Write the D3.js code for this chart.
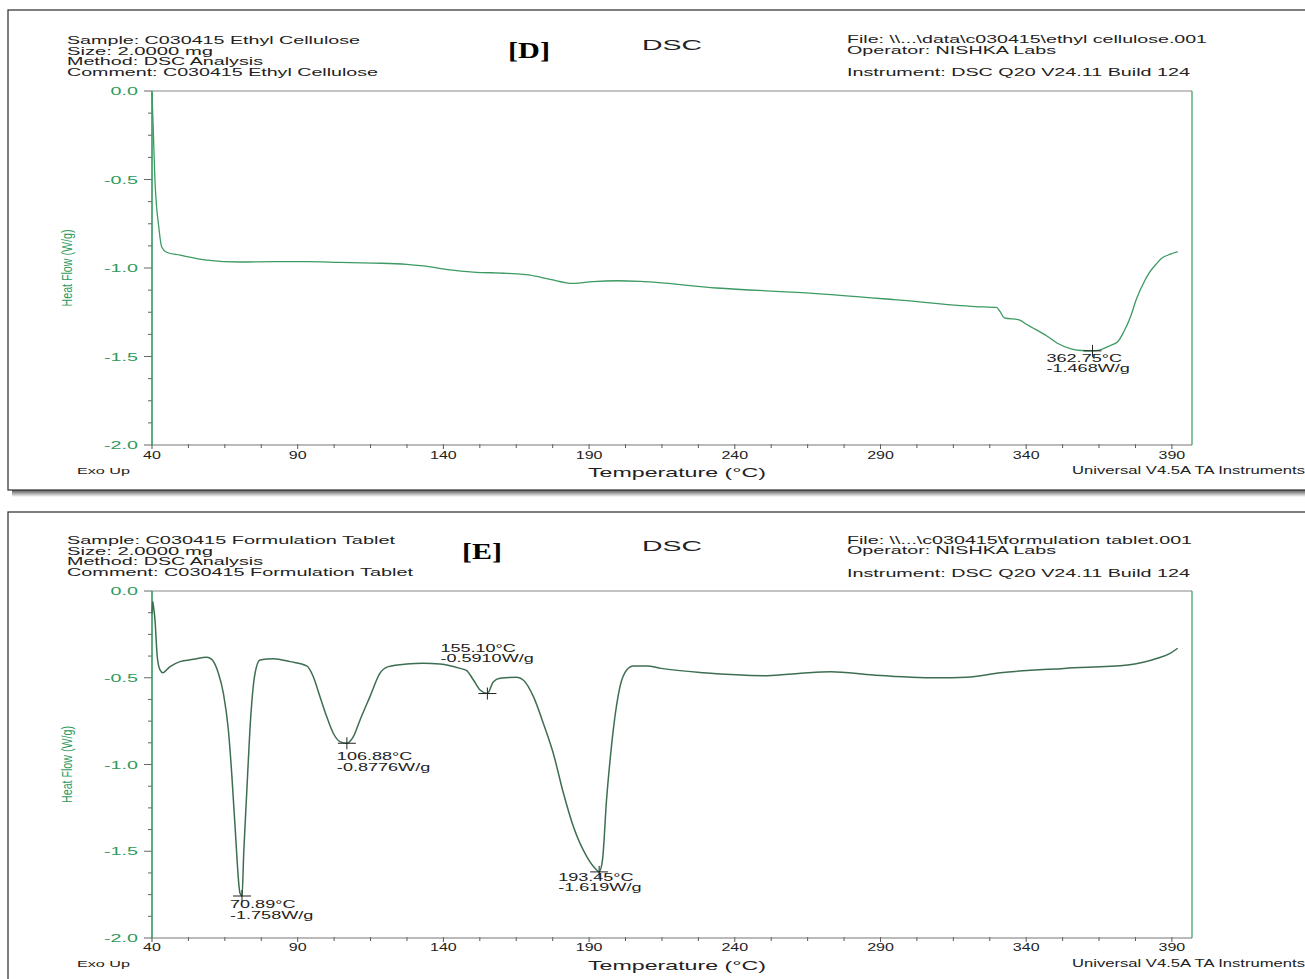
<!DOCTYPE html>
<html>
<head>
<meta charset="utf-8">
<script src="https://cdn.jsdelivr.net/npm/d3@7"></script>
<style>
	body { margin: 0; background: #fff; }
	svg { display: block; }
</style>
</head>
<body>
<div id="chart"></div>
<script>
/***********************************************************
  Start: Data
***********************************************************/
var xTickValues = [40, 90, 140, 190, 240, 290, 340, 390];
var yTickValues = [0.0, -0.5, -1.0, -1.5, -2.0];
var xDomain = [40, 396.9];
var yDomain = [-2.0, 0.0];

// Panel D : ethyl cellulose
var headerLeftD = ['Sample: C030415 Ethyl Cellulose', 'Size:  2.0000 mg', 'Method: DSC Analysis', 'Comment: C030415 Ethyl Cellulose'];
var headerRightD = ['File: \\\\...\\data\\c030415\\ethyl cellulose.001', 'Operator: NISHKA Labs', 'Instrument: DSC Q20 V24.11 Build 124'];
var tempD = [40.0, 40.5, 41.0, 41.6, 42.2, 43.3, 45.0, 49.6, 58.8, 70.2, 81.5, 93.1, 104.5, 115.8, 127.4, 133.0, 142.3, 150.2, 161.7, 169.7, 176.6, 184.5, 191.3, 199.6, 207.5, 233.7, 265.7, 294.8, 322.7, 329.8, 331.0, 332.5, 337.8, 339.9, 347.1, 350.7, 355.7, 359.0, 362.75, 365.5, 368.6, 371.4, 373.5, 375.8, 377.7, 380.8, 382.1, 384.5, 386.5, 389.5, 392.0];
var flowD = [-0.01, -0.25, -0.50, -0.66, -0.75, -0.88, -0.911, -0.927, -0.955, -0.966, -0.964, -0.964, -0.968, -0.972, -0.979, -0.988, -1.011, -1.023, -1.030, -1.040, -1.064, -1.087, -1.077, -1.072, -1.075, -1.113, -1.142, -1.179, -1.218, -1.223, -1.245, -1.282, -1.294, -1.316, -1.384, -1.425, -1.458, -1.466, -1.468, -1.462, -1.440, -1.417, -1.360, -1.275, -1.181, -1.068, -1.030, -0.980, -0.945, -0.922, -0.908];
var peakTempD = [362.75];
var peakFlowD = [-1.468];

// Panel E : formulation tablet
var headerLeftE = ['Sample: C030415 Formulation Tablet', 'Size:  2.0000 mg', 'Method: DSC Analysis', 'Comment: C030415 Formulation Tablet'];
var headerRightE = ['File: \\\\...\\c030415\\formulation tablet.001', 'Operator: NISHKA Labs', 'Instrument: DSC Q20 V24.11 Build 124'];
var tempE = [40.0, 40.25, 40.6, 41.03, 41.8, 42.75, 43.7, 46.2, 49.6, 54.2, 58.8, 60.5, 62.8, 64.5, 66.2, 67.35, 68.5, 70.2, 70.89, 71.5, 72.5, 73.6, 75.35, 77.06, 81.6, 87.4, 93.1, 95.35, 97.65, 99.95, 102.2, 104.5, 106.88, 109.1, 111.4, 114.8, 118.2, 121.1, 127.4, 133.1, 138.8, 145.7, 148.0, 150.3, 152.6, 155.1, 157.1, 159.4, 165.2, 167.4, 170.9, 174.3, 177.7, 181.2, 184.6, 189.2, 192.6, 193.45, 194.6, 196.0, 197.2, 198.3, 200.6, 202.9, 205.2, 209.8, 214.7, 229.3, 251.1, 262.7, 272.9, 287.5, 309.4, 319.5, 331.2, 353.0, 374.8, 385.0, 389.4, 392.0];
var flowE = [-0.13, -0.06, -0.10, -0.167, -0.379, -0.455, -0.471, -0.436, -0.407, -0.394, -0.382, -0.394, -0.475, -0.590, -0.800, -1.050, -1.358, -1.742, -1.758, -1.500, -1.166, -0.800, -0.475, -0.398, -0.390, -0.407, -0.432, -0.494, -0.609, -0.724, -0.820, -0.868, -0.8776, -0.840, -0.743, -0.609, -0.475, -0.436, -0.421, -0.417, -0.421, -0.446, -0.459, -0.513, -0.571, -0.591, -0.525, -0.503, -0.497, -0.513, -0.609, -0.763, -0.935, -1.166, -1.358, -1.531, -1.608, -1.619, -1.550, -1.200, -0.974, -0.800, -0.551, -0.455, -0.432, -0.432, -0.446, -0.471, -0.488, -0.474, -0.465, -0.484, -0.500, -0.497, -0.471, -0.446, -0.427, -0.388, -0.359, -0.330];
var peakTempE = [70.89, 106.88, 155.10, 193.45];
var peakFlowE = [-1.758, -0.8776, -0.5910, -1.619];
/***********************************************************
  End: Data
***********************************************************/

/***********************************************************
  Start: Layout
***********************************************************/
var width = 1305, height = 979;
var plotLeft = 152, plotRight = 1192;
var green = '#2f9a5c';
var sans = '"Liberation Sans", Arial, sans-serif';

var panels = [
	{
		letter: '[D]', frameTop: 10, frameBottom: 490, plotTop: 91, plotBottom: 445,
		headerLeft: headerLeftD, headerRight: headerRightD,
		leftWidths: [293, 146, 196, 311], rightWidths: [360, 209, 343],
		leftY: [40, 50.7, 61.4, 72], rightY: [39, 50, 72],
		letterX: 529, letterY: 50, letterW: 42, dscY: 44,
		temp: tempD, flow: flowD, lineColor: '#3c9a62', lineWidth: 1.3,
		peakTemp: peakTempD, peakFlow: peakFlowD, labelOffsets: [[-46, 7]],
		tickLabelY: 455, footerY: 470, tempLabelY: 472
	},
	{
		letter: '[E]', frameTop: 512, frameBottom: 1100, plotTop: 591, plotBottom: 938,
		headerLeft: headerLeftE, headerRight: headerRightE,
		leftWidths: [328, 146, 196, 346], rightWidths: [345, 209, 343],
		leftY: [540, 550.7, 561.4, 572], rightY: [540, 550, 573],
		letterX: 482, letterY: 551, letterW: 40, dscY: 545,
		temp: tempE, flow: flowE, lineColor: '#3d6e52', lineWidth: 1.5,
		peakTemp: peakTempE, peakFlow: peakFlowE, labelOffsets: [[-12, 8], [-10, 13], [-47, -46], [-41, 5]],
		tickLabelY: 947, footerY: 963, tempLabelY: 965
	}
];
/***********************************************************
  End: Layout
***********************************************************/

var locale = d3.formatLocale({decimal: '.', thousands: ',', grouping: [3], currency: ['', ''], minus: '-'});
var fmtTick = locale.format('.1f');
var fmtTemp = locale.format('.2f');
var fmtFlow = locale.format('.4r');

var svg = d3.select('#chart').append('svg')
	.attr('width', width)
	.attr('height', height);

// Shadow gradient under the first panel
var grad = svg.append('defs').append('linearGradient')
	.attr('id', 'shadow').attr('x1', 0).attr('x2', 0).attr('y1', 0).attr('y2', 1);
grad.append('stop').attr('offset', '0%').attr('stop-color', '#555');
grad.append('stop').attr('offset', '100%').attr('stop-color', '#fff');

// text helper: glyphs are wide in the original, so stretch to a target width
function addText(g, str, x, y, o) {
	var t = g.append('text')
		.text(str)
		.attr('x', x)
		.attr('y', y)
		.attr('dominant-baseline', 'central')
		.attr('text-anchor', o.anchor || 'start')
		.style('font-family', o.family || sans)
		.style('font-size', (o.size || 11) + 'px')
		.style('fill', o.color || '#222');
	if (o.weight) t.style('font-weight', o.weight);
	if (o.width) {
		t.attr('textLength', o.width).attr('lengthAdjust', 'spacingAndGlyphs');
	} else if (o.stretch) {
		var w = t.node().getComputedTextLength();
		t.attr('textLength', w * o.stretch).attr('lengthAdjust', 'spacingAndGlyphs');
	}
	return t;
}

panels.forEach(function(p, idx) {
	var g = svg.append('g');

	/***********************************************************
	  Start: Frame
	***********************************************************/
	if (idx == 0) {
		g.append('rect')
			.attr('x', 12).attr('y', p.frameBottom)
			.attr('width', width - 12).attr('height', 7)
			.attr('fill', 'url(#shadow)');
	}
	g.append('rect')
		.attr('x', 8).attr('y', p.frameTop)
		.attr('width', width + 20).attr('height', p.frameBottom - p.frameTop)
		.attr('fill', 'none')
		.attr('stroke', '#3a3a3a')
		.attr('stroke-width', 1.3);
	/***********************************************************
	  End: Frame
	***********************************************************/

	/***********************************************************
	  Start: Header texts
	***********************************************************/
	p.headerLeft.forEach(function(s, i) {
		addText(g, s, 67, p.leftY[i], {size: 11.5, width: p.leftWidths[i]});
	});
	p.headerRight.forEach(function(s, i) {
		addText(g, s, 847, p.rightY[i], {size: 11.5, width: p.rightWidths[i]});
	});
	addText(g, p.letter, p.letterX, p.letterY, {size: 23, family: '"Liberation Serif", "Times New Roman", serif', weight: 'bold', anchor: 'middle', width: p.letterW, color: '#000'});
	addText(g, 'DSC', 672, p.dscY, {size: 15, anchor: 'middle', width: 60});
	/***********************************************************
	  End: Header texts
	***********************************************************/

	// Scales
	var x = d3.scaleLinear().domain(xDomain).range([plotLeft, plotRight]);
	var y = d3.scaleLinear().domain(yDomain).range([p.plotBottom, p.plotTop]);

	/***********************************************************
	  Start: Axes
	***********************************************************/
	var minorX = d3.range(xDomain[0], xDomain[1], 12.5);
	g.selectAll('.xminor').data(minorX).enter().append('line')
		.attr('x1', function(d) { return x(d); })
		.attr('x2', function(d) { return x(d); })
		.attr('y1', p.plotBottom - 1)
		.attr('y2', function(d) { return p.plotBottom + (xTickValues.indexOf(d) >= 0 ? 4 : 3); })
		.attr('stroke', '#555')
		.attr('stroke-width', 1);
	var minorY = d3.range(0, 17).map(function(i) { return -i * 0.125; });
	g.selectAll('.yminor').data(minorY).enter().append('line')
		.attr('x1', function(d) { return plotLeft - (yTickValues.indexOf(d) >= 0 ? 8 : 4); })
		.attr('x2', plotLeft)
		.attr('y1', function(d) { return y(d); })
		.attr('y2', function(d) { return y(d); })
		.attr('stroke', '#666')
		.attr('stroke-width', 1);

	// plot box: gray top / bottom, green left / right
	g.append('line')
		.attr('x1', plotLeft).attr('x2', plotRight)
		.attr('y1', p.plotTop).attr('y2', p.plotTop)
		.attr('stroke', '#8a8a8a').attr('stroke-width', 1.2);
	g.append('line')
		.attr('x1', plotLeft).attr('x2', plotRight)
		.attr('y1', p.plotBottom).attr('y2', p.plotBottom)
		.attr('stroke', '#777').attr('stroke-width', 1.2);
	g.append('line')
		.attr('x1', plotRight).attr('x2', plotRight)
		.attr('y1', p.plotTop).attr('y2', p.plotBottom)
		.attr('stroke', green).attr('stroke-width', 1.2);
	g.append('line')
		.attr('x1', plotLeft).attr('x2', plotLeft)
		.attr('y1', p.plotTop).attr('y2', p.plotBottom)
		.attr('stroke', green).attr('stroke-width', 1.6);

	xTickValues.forEach(function(v) {
		addText(g, v, x(v), p.tickLabelY, {size: 10, anchor: 'middle', stretch: 1.6, color: '#222'});
	});
	yTickValues.forEach(function(v) {
		addText(g, fmtTick(v), 138, y(v), {size: 10.5, anchor: 'end', stretch: 1.88, color: green});
	});

	addText(g, 'Heat Flow (W/g)', 0, 0, {size: 15, anchor: 'middle', width: 77, color: green})
		.attr('transform', 'translate(66,' + ((p.plotTop + p.plotBottom) / 2) + ') rotate(-90)');
	addText(g, 'Temperature (°C)', 677, p.tempLabelY, {size: 13, anchor: 'middle', width: 178});
	addText(g, 'Exo Up', 77, p.footerY, {size: 9.5, width: 53});
	addText(g, 'Universal V4.5A TA Instruments', 1072, p.footerY, {size: 10, width: 233});
	/***********************************************************
	  End: Axes
	***********************************************************/

	/***********************************************************
	  Start: Curve and peak annotations
	***********************************************************/
	var pts = p.temp.map(function(t, i) { return [t, p.flow[i]]; });
	var line = d3.line()
		.x(function(d) { return x(d[0]); })
		.y(function(d) { return y(d[1]); })
		.curve(d3.curveMonotoneX);
	g.append('path')
		.datum(pts)
		.attr('d', line)
		.attr('fill', 'none')
		.attr('stroke', p.lineColor)
		.attr('stroke-width', p.lineWidth)
		.attr('stroke-linejoin', 'round');

	p.peakTemp.forEach(function(t, i) {
		var cx = x(t), cy = y(p.peakFlow[i]);
		g.append('line')
			.attr('x1', cx - 9).attr('x2', cx + 9)
			.attr('y1', cy).attr('y2', cy)
			.attr('stroke', '#222').attr('stroke-width', 1);
		g.append('line')
			.attr('x1', cx).attr('x2', cx)
			.attr('y1', cy - 6).attr('y2', cy + 6)
			.attr('stroke', '#222').attr('stroke-width', 1);
		var off = p.labelOffsets[i];
		addText(g, fmtTemp(t) + '°C', cx + off[0], cy + off[1], {size: 10.5, stretch: 1.72});
		addText(g, fmtFlow(p.peakFlow[i]) + 'W/g', cx + off[0], cy + off[1] + 10.5, {size: 10.5, stretch: 1.72});
	});
	/***********************************************************
	  End: Curve and peak annotations
	***********************************************************/
});
</script>
</body>
</html>
